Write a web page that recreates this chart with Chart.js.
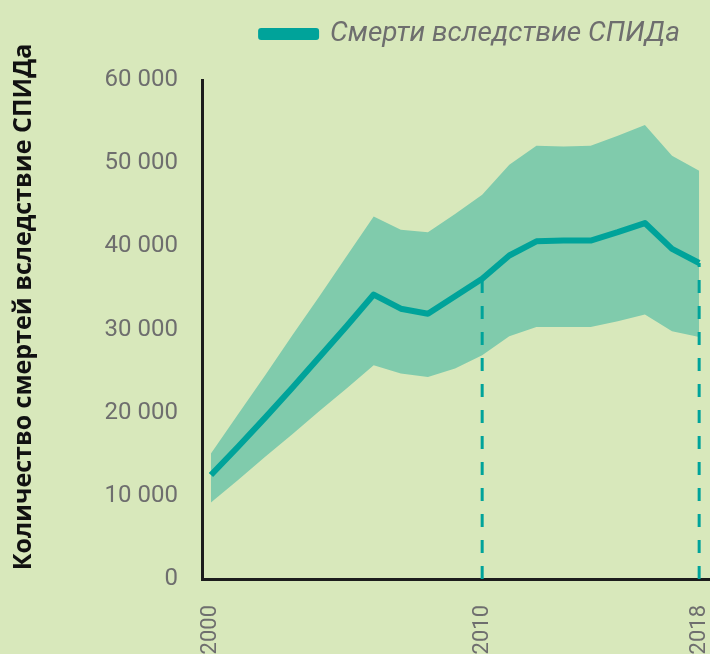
<!DOCTYPE html>
<html>
<head>
<meta charset="utf-8">
<script src="https://cdn.jsdelivr.net/npm/chart.js@4.4.1/dist/chart.umd.min.js"></script>
<style>
  body { margin: 0; background: #d8e8bb; }
  #wrap { width: 710px; height: 654px; }
</style>
</head>
<body>
<div id="wrap"><canvas id="chart"></canvas></div>
<script>
const years = [2000, 2001, 2002, 2003, 2004, 2005, 2006, 2007, 2008, 2009, 2010, 2011, 2012, 2013, 2014, 2015, 2016, 2017, 2018];
const deaths = [12500, 15900, 19400, 23000, 26700, 30400, 34200, 32500, 31900, 34000, 36100, 38900, 40600, 40700, 40700, 41700, 42800, 39700, 38000];
const upper = [15100, 19800, 24500, 29300, 34000, 38800, 43600, 42000, 41700, 43900, 46200, 49800, 52100, 52000, 52100, 53300, 54600, 50900, 49100];
const lower = [9200, 11900, 14700, 17400, 20200, 22900, 25700, 24700, 24300, 25300, 26900, 29200, 30300, 30300, 30300, 31000, 31800, 29800, 29100];
const xTicks = [2000, 2010, 2018];
const markYears = [2010, 2018];
const seriesLabel = 'Смерти вследствие СПИДа';
const yTitle = 'Количество смертей вследствие СПИДа';

const teal = '#00a39a';
const band = '#80cbac';
const grey = '#6e6e6e';

const pts = arr => years.map((y, i) => ({ x: y, y: arr[i] }));
const dropLine = yr => [{ x: yr, y: 0 }, { x: yr, y: deaths[years.indexOf(yr)] }];

const yTitlePlugin = {
  id: 'yTitle',
  afterDraw(chart) {
    const c = chart.ctx;
    c.save();
    c.translate(24, 307);
    c.rotate(-Math.PI / 2);
    c.font = 'bold 25px "Open Sans"';
    c.fillStyle = '#111';
    c.textAlign = 'center';
    c.textBaseline = 'middle';
    c.fillText(yTitle, 0, 0);
    c.restore();
  }
};

new Chart(document.getElementById('chart'), {
  type: 'line',
  data: {
    datasets: [
      {
        label: seriesLabel,
        data: pts(deaths),
        borderColor: teal,
        backgroundColor: teal,
        borderWidth: 6,
        borderJoinStyle: 'round',
        pointRadius: 0,
        order: 0
      },
      {
        label: 'upper',
        data: pts(upper),
        borderWidth: 0,
        backgroundColor: band,
        fill: '+1',
        pointRadius: 0,
        order: 3
      },
      {
        label: 'lower',
        data: pts(lower),
        borderWidth: 0,
        backgroundColor: band,
        fill: false,
        pointRadius: 0,
        order: 3
      },
      ...markYears.map(yr => ({
        label: 'mark' + yr,
        data: dropLine(yr),
        borderColor: teal,
        borderWidth: 3,
        borderDash: [13, 13],
        pointRadius: 0,
        fill: false,
        order: 1
      }))
    ]
  },
  options: {
    responsive: true,
    maintainAspectRatio: false,
    animation: false,
    layout: { padding: { top: -10, left: 0, right: 0, bottom: 0 } },
    plugins: {
      legend: {
        position: 'top',
        align: 'end',
        weight: 3000,
        labels: {
          filter: item => item.datasetIndex === 0,
          boxWidth: 55,
          boxHeight: 6,
          color: grey,
          padding: 30,
          font: { family: 'Roboto', size: 28, style: 'italic' }
        }
      },
      // empty title used only as a spacer under the legend
      title: {
        display: true,
        text: ' ',
        weight: 2000,
        font: { size: 10, lineHeight: 1 },
        padding: { top: 6, bottom: 6 }
      },
      tooltip: { enabled: false }
    },
    scales: {
      x: {
        type: 'linear',
        min: 1999.67,
        max: 2018.4,
        afterBuildTicks: s => { s.ticks = xTicks.map(v => ({ value: v })); },
        afterFit: s => { s.height = 75; s.paddingLeft = 0; s.paddingRight = 0; },
        grid: { display: false },
        border: { display: true, color: '#1c1c1c', width: 3 },
        ticks: {
          autoSkip: false,
          minRotation: 90,
          maxRotation: 90,
          padding: 18,
          color: grey,
          font: { family: 'Roboto', size: 22 },
          callback: v => String(v)
        }
      },
      y: {
        min: 0,
        max: 60000,
        afterFit: s => { s.width = 202; },
        grid: { display: false },
        border: { display: true, color: '#1c1c1c', width: 3 },
        ticks: {
          stepSize: 10000,
          padding: 16,
          color: grey,
          font: { family: 'Roboto', size: 24 },
          callback: v => String(v).replace(/\B(?=(\d{3})+(?!\d))/g, ' ')
        }
      }
    }
  },
  plugins: [yTitlePlugin]
});
</script>
</body>
</html>
